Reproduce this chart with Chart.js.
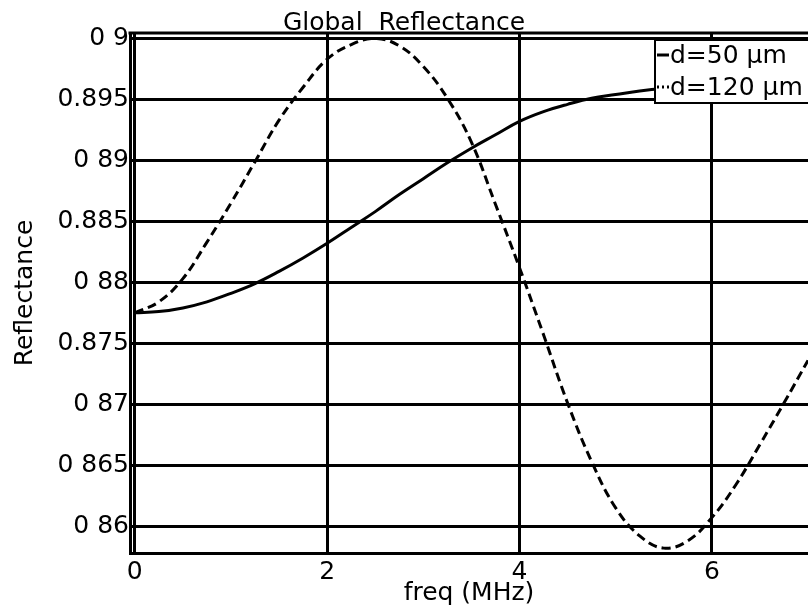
<!DOCTYPE html>
<html>
<head>
<meta charset="utf-8">
<script src="https://cdn.jsdelivr.net/npm/chart.js@4.4.0/dist/chart.umd.min.js"></script>
<style>
	html, body { margin: 0; padding: 0; background: #ffffff; }
	#reflectance { display: block; }
</style>
</head>
<body>
<canvas id="reflectance" width="808" height="609"></canvas>
<script>
// frequency samples (MHz)
const freq = [0, 0.25, 0.5, 0.75, 1, 1.25, 1.5, 1.75, 2, 2.25, 2.5, 2.75, 3, 3.25, 3.5,
	3.75, 4, 4.25, 4.5, 4.75, 5, 5.25, 5.5, 5.75, 6, 6.25, 6.5, 6.75, 7];

// d = 50 um layer
const refl50 = [0.8775, 0.8776, 0.8779, 0.8784, 0.8791, 0.8799, 0.8809, 0.882, 0.8832, 0.8845,
	0.8858, 0.8872, 0.8885, 0.8898, 0.891, 0.8921, 0.8932, 0.894, 0.8946, 0.8951,
	0.8954, 0.8957, 0.8959, 0.896, 0.8961, 0.8962, 0.8962, 0.8962, 0.8962];

// d = 120 um layer
const refl120 = [0.8775, 0.8784, 0.8803, 0.8833, 0.8865, 0.8899, 0.8933, 0.896, 0.8983, 0.8995,
	0.9, 0.8994, 0.8977, 0.8951, 0.8915, 0.8864, 0.8812, 0.8757, 0.8701, 0.8653,
	0.8615, 0.8592, 0.8582, 0.8588, 0.8607, 0.8634, 0.8667, 0.8701, 0.8736];

const seriesLabels = ["d=50 \u00b5m", "d=120 \u00b5m"];

const xTicks = [0, 2, 4, 6];
const yTicks = [0.86, 0.865, 0.87, 0.875, 0.88, 0.885, 0.89, 0.895, 0.9];
const yTickLabels = ["0 86", "0 865", "0 87", "0.875", "0 88", "0.885", "0 89", "0.895", "0 9"];

Chart.defaults.font.family = "'DejaVu Sans', sans-serif";
Chart.defaults.color = "#000000";

// top frame line of the plot box
const frameTop = {
	id: "frameTop",
	beforeDatasetsDraw(chart) {
		const { ctx, chartArea } = chart;
		ctx.save();
		ctx.strokeStyle = "#000000";
		ctx.lineWidth = 3;
		ctx.beginPath();
		ctx.moveTo(chartArea.left - 1.5, chartArea.top);
		ctx.lineTo(chartArea.right, chartArea.top);
		ctx.stroke();
		ctx.restore();
	},
};

// boxed legend sitting in the top right corner of the plot
const boxLegend = {
	id: "boxLegend",
	afterDraw(chart) {
		const { ctx, chartArea } = chart;
		const left = 655;
		const top = chartArea.top + 7;
		ctx.save();
		ctx.fillStyle = "#ffffff";
		ctx.strokeStyle = "#000000";
		ctx.lineWidth = 2;
		ctx.fillRect(left, top, 200, 63);
		ctx.strokeRect(left, top, 200, 63);

		ctx.font = "25px 'DejaVu Sans'";
		ctx.textBaseline = "alphabetic";
		ctx.fillStyle = "#000000";
		chart.data.datasets.forEach((ds, i) => {
			const y = top + 15 + i * 32;
			ctx.lineWidth = 3;
			ctx.setLineDash(ds.borderDash ? [2, 3] : []);
			ctx.beginPath();
			ctx.moveTo(left + 2, y);
			ctx.lineTo(left + 14, y);
			ctx.stroke();
			ctx.setLineDash([]);
			ctx.fillText(ds.label, left + 15, y + 8);
		});
		ctx.restore();
	},
};

function lineData(values) {
	return freq.map((f, i) => ({ x: f, y: values[i] }));
}

const config = {
	type: "line",
	data: {
		datasets: [
			{
				label: seriesLabels[0],
				data: lineData(refl50),
				borderColor: "#000000",
				borderWidth: 3,
				tension: 0.4,
				fill: false,
			},
			{
				label: seriesLabels[1],
				data: lineData(refl120),
				borderColor: "#000000",
				borderWidth: 3,
				borderDash: [9, 5],
				tension: 0.4,
				fill: false,
			},
		],
	},
	options: {
		responsive: false,
		animation: false,
		layout: { padding: 0 },
		elements: { point: { radius: 0 } },
		plugins: {
			legend: { display: false },
			tooltip: { enabled: false },
			title: {
				display: true,
				text: "Global  Reflectance",
				color: "#000000",
				font: { size: 25, weight: "normal", lineHeight: 0.8 },
				padding: { top: 13, bottom: 0 },
			},
		},
		scales: {
			x: {
				type: "linear",
				min: -0.05,
				max: 7,
				afterBuildTicks: (scale) => {
					scale.ticks = xTicks.map((v) => ({ value: v }));
				},
				afterFit: (scale) => {
					scale.height = 56;
				},
				grid: { color: "#000000", lineWidth: 3, drawTicks: false },
				border: { color: "#000000", width: 3 },
				ticks: {
					padding: 4,
					color: "#000000",
					font: { size: 25 },
					maxRotation: 0,
					autoSkip: false,
				},
				title: {
					display: true,
					text: "freq (MHz)",
					color: "#000000",
					font: { size: 25 },
					padding: { top: 0, bottom: 1 },
				},
			},
			y: {
				min: 0.8578,
				max: 0.90045,
				afterBuildTicks: (scale) => {
					scale.ticks = yTicks.map((v) => ({ value: v }));
				},
				afterFit: (scale) => {
					scale.width = 130;
				},
				grid: { color: "#000000", lineWidth: 3, drawTicks: false },
				border: { color: "#000000", width: 3 },
				ticks: {
					padding: 1,
					color: "#000000",
					font: { size: 25 },
					autoSkip: false,
					callback: (value, index) => yTickLabels[index],
				},
				title: {
					display: true,
					text: "Reflectance",
					color: "#000000",
					font: { size: 25 },
					padding: { top: 10, bottom: 0 },
				},
			},
		},
	},
	plugins: [frameTop, boxLegend],
};

const reflChart = new Chart(document.getElementById("reflectance"), config);
</script>
</body>
</html>
